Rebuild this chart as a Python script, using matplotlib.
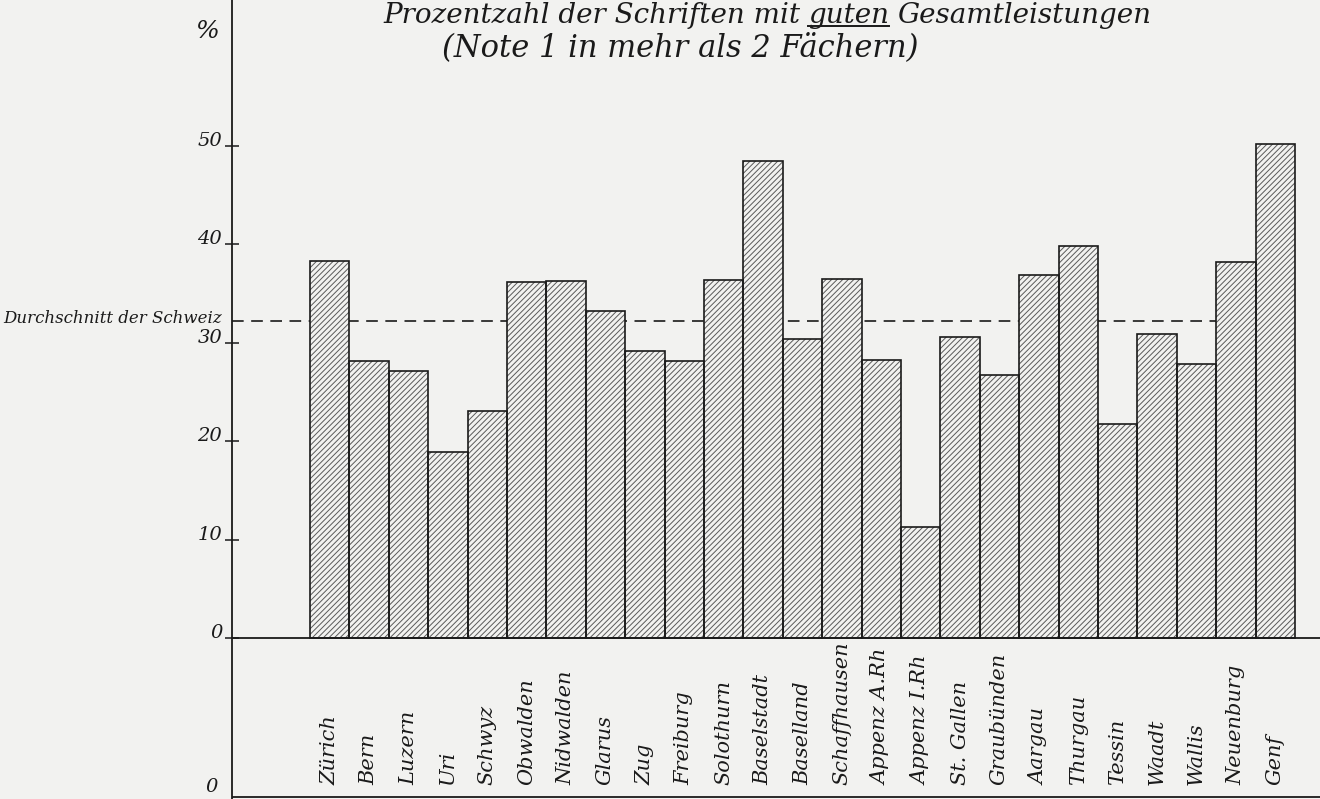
import matplotlib.pyplot as plt
from matplotlib.lines import Line2D

cantons = ["Zürich", "Bern", "Luzern", "Uri", "Schwyz", "Obwalden",
           "Nidwalden", "Glarus", "Zug", "Freiburg", "Solothurn",
           "Baselstadt", "Baselland", "Schaffhausen", "Appenz A.Rh",
           "Appenz I.Rh", "St. Gallen", "Graubünden", "Aargau", "Thurgau",
           "Tessin", "Waadt", "Wallis", "Neuenburg", "Genf"]
values = [38.3, 28.2, 27.1, 18.9, 23.1, 36.2, 36.3, 33.2, 29.2, 28.2,
          36.4, 48.5, 30.4, 36.5, 28.3, 11.3, 30.6, 26.7, 36.9, 39.8,
          21.7, 30.9, 27.8, 38.2, 50.2]
swiss_avg = 32.2
avg_label = "Durchschnitt der Schweiz"
y_ticks = [0, 10, 20, 30, 40, 50]
title_parts = ["Prozentzahl der Schriften mit", "guten", "Gesamtleistungen"]
subtitle = "(Note 1 in mehr als 2 Fächern)"

paper = "#f2f2f0"
ink = "#1a1a1a"
font = dict(family="DejaVu Serif", style="italic", color=ink)

W, H = 1320, 799
fig = plt.figure(figsize=(W / 100, H / 100), dpi=100, facecolor=paper)
ax = fig.add_axes([232 / W, 0, 1 - 232 / W, 1])
ax.set_facecolor(paper)

px_per_unit = 9.84   # pixels per percent
bar_px = 39.4        # pixels per bar
ax.set_ylim(-(H - 638) / px_per_unit, 638 / px_per_unit)
ax.set_xlim(-0.5 - 78 / bar_px, -0.5 + 1010 / bar_px)

x = list(range(len(cantons)))
plt.rcParams["hatch.linewidth"] = 0.7
# hatching first (hatch takes the edge colour), then black outlines
ax.bar(x, values, width=1.0, facecolor=paper, edgecolor="#5a5a5a",
       linewidth=0, hatch="//////", zorder=2)
ax.bar(x, values, width=1.0, fill=False, edgecolor=ink, linewidth=1.2,
       zorder=3)

# Swiss average, dashed, running behind the bars up to Neuenburg
x0 = ax.get_xlim()[0]
ax.plot([x0, cantons.index("Neuenburg") - 0.5], [swiss_avg, swiss_avg],
        ls=(0, (7, 4.5)), color=ink, lw=1.2, zorder=1)
ax.annotate(avg_label, xy=(0, swiss_avg), xycoords=("axes fraction", "data"),
            xytext=(-10, 3), textcoords="offset pixels", ha="right",
            va="center", fontsize=12, **font)

# baselines
ax.axhline(0, color=ink, lw=1.3, zorder=4)
bottom_y = -(797 - 638) / px_per_unit
ax.axhline(bottom_y, color=ink, lw=1.3, zorder=4)

# axis
for s in ["top", "right", "bottom"]:
    ax.spines[s].set_visible(False)
ax.spines["left"].set_linewidth(1.3)
ax.spines["left"].set_color(ink)
ax.set_xticks([])
ax.set_yticks(y_ticks)
ax.set_yticklabels([str(t) for t in y_ticks], **font, fontsize=14)
ax.tick_params(axis="y", direction="inout", length=10, width=1.1,
               pad=2, colors=ink)
for lbl in ax.get_yticklabels():
    lbl.set_va("baseline")

ax.annotate("%", xy=(0, 1), xycoords="axes fraction", xytext=(-25, -32),
            textcoords="offset pixels", ha="center", va="center",
            fontsize=18, **font)
ax.annotate("0", xy=(0, bottom_y), xycoords=("axes fraction", "data"),
            xytext=(-14, 10), textcoords="offset pixels", ha="right",
            va="center", fontsize=14, **font)

# canton names, rotated, aligned at the bottom
label_y = -(785 - 638) / px_per_unit
for i, name in enumerate(cantons):
    ax.text(i, label_y, name, rotation=90, ha="center", va="bottom",
            fontsize=15, **font)

# title, "guten" underlined
renderer = fig.canvas.get_renderer()
title_size = 20
gap = 8
base = 1 - 23 / H
texts = [fig.text(0, base, p, ha="left", va="baseline", fontsize=title_size,
                  **font) for p in title_parts]
widths = [t.get_window_extent(renderer).width for t in texts]
total = sum(widths) + gap * (len(texts) - 1)
cur = 767 - total / 2
for t, w, part in zip(texts, widths, title_parts):
    t.set_x(cur / W)
    if part == "guten":
        fig.add_artist(Line2D([cur / W, (cur + w) / W],
                              [1 - 26 / H, 1 - 26 / H],
                              transform=fig.transFigure, color=ink, lw=1.4))
    cur += w + gap

fig.text(680 / W, 1 - 48 / H, subtitle, ha="center", va="center",
         fontsize=22, **font)

fig.savefig("out.png", dpi=100, facecolor=paper)
